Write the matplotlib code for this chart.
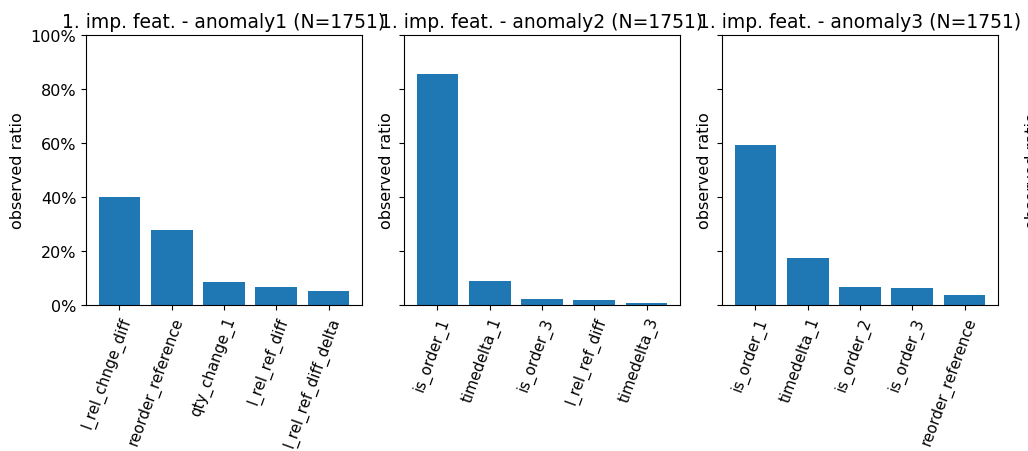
import matplotlib
matplotlib.use('Agg')
import matplotlib.pyplot as plt
from matplotlib.ticker import PercentFormatter

titles = ['1. imp. feat. - anomaly1 (N=1751)',
          '1. imp. feat. - anomaly2 (N=1751)',
          '1. imp. feat. - anomaly3 (N=1751)']

feat_a1 = ['l_rel_chnge_diff', 'reorder_reference', 'qty_change_1', 'l_rel_ref_diff', 'l_rel_ref_diff_delta']
ratio_a1 = [0.400, 0.278, 0.085, 0.067, 0.052]

feat_a2 = ['is_order_1', 'timedelta_1', 'is_order_3', 'l_rel_ref_diff', 'timedelta_3']
ratio_a2 = [0.855, 0.089, 0.022, 0.019, 0.007]

feat_a3 = ['is_order_1', 'timedelta_1', 'is_order_2', 'is_order_3', 'reorder_reference']
ratio_a3 = [0.593, 0.174, 0.067, 0.063, 0.037]

feats = [feat_a1, feat_a2, feat_a3]
ratios = [ratio_a1, ratio_a2, ratio_a3]

plt.rcParams['xtick.labelsize'] = 10.8
plt.rcParams['ytick.labelsize'] = 11.5
plt.rcParams['axes.labelsize'] = 11.5
plt.rcParams['axes.titlesize'] = 13.5

fig = plt.figure(figsize=(10.28, 4.52), dpi=100)
lefts = [86, 404, 722]
axes = []
for i, left in enumerate(lefts):
    ax = fig.add_axes([left / 1028, (452 - 306) / 452, 276 / 1028, 270 / 452],
                      sharey=axes[0] if axes else None)
    ax.bar(feats[i], ratios[i], color='#1f77b4')
    ax.set_title(titles[i])
    ax.set_ylabel('observed ratio')
    ax.set_ylim(0, 1)
    ax.yaxis.set_major_formatter(PercentFormatter(1.0, decimals=0))
    plt.setp(ax.get_xticklabels(), rotation=70, ha='right', rotation_mode='anchor')
    if i > 0:
        ax.tick_params(labelleft=False)
    axes.append(ax)

# ylabel of a fourth panel, almost fully cut off at the right edge
fig.text(1025 / 1028, 1 - 171 / 452, 'observed ratio', rotation=90,
         ha='left', va='center', fontsize=11.5)

fig.savefig('out.png', dpi=100)
